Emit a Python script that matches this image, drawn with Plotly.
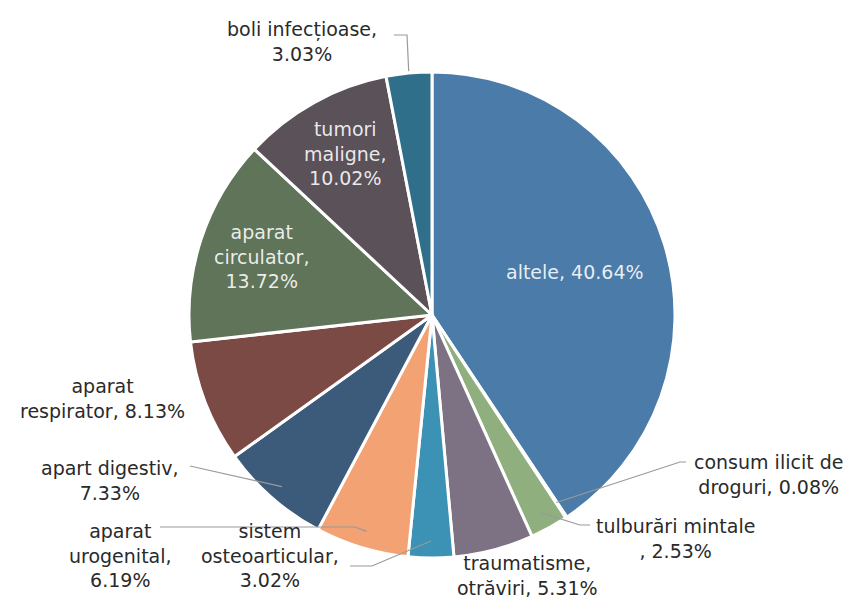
import plotly.graph_objects as go
import math

# ---- data ----
labels = ["altele", "consum ilicit de droguri", "tulburări mintale", "traumatisme, otrăviri",
          "sistem osteoarticular", "aparat urogenital", "apart digestiv", "aparat respirator",
          "aparat circulator", "tumori maligne", "boli infecțioase"]
values = [40.64, 0.08, 2.53, 5.31, 3.02, 6.19, 7.33, 8.13, 13.72, 10.02, 3.03]
# wrapped display names and separators between name and value
display = ["altele", "consum ilicit de<br>droguri", "tulburări mintale", "traumatisme,<br>otrăviri",
           "sistem<br>osteoarticular", "aparat<br>urogenital", "apart digestiv", "aparat<br>respirator",
           "aparat<br>circulator", "tumori<br>maligne", "boli infecțioase"]
seps = [", ", ", ", "<br>, ", ", ", ",<br>", ",<br>", ",<br>", ", ", ",<br>", ",<br>", ",<br>"]
colors = ["#4b7ba8", "#6a9a6a", "#8fb07e", "#7d7283", "#3b92b5", "#f2a273", "#3c5a7a",
          "#7b4a45", "#5f7459", "#5b5159", "#2f6f89"]

W, H = 855, 597
OFF = 8  # page body margin offset
CX, CY, R = 432 - OFF, 315 - OFF, 243

# label layout (target pixels in the picture): text centre, leader points, tip radius
layout_info = [
    dict(x=575, y=272, inside=True),
    dict(x=768, y=474, lead=[(686, 462), (680, 462)], r=225),
    dict(x=675, y=538, lead=[(590, 525), (580, 525)], r=226),
    dict(x=527, y=575),
    dict(x=270, y=555, lead=[(350, 566), (372, 566)], r=226),
    dict(x=120, y=555, lead=[(160, 527), (355, 527)], r=226),
    dict(x=110, y=480, lead=[(190, 466)], r=228),
    dict(x=102, y=398),
    dict(x=261, y=257, inside=True),
    dict(x=345, y=153, inside=True),
    dict(x=302, y=42, lead=[(394, 35), (407, 35)], r=245),
]

def px(x, y):
    # convert target picture pixels to paper coordinates
    return (x - OFF) / W, 1 - (y - OFF) / H

fig = go.Figure(go.Pie(
    labels=labels, values=values, sort=False, direction="clockwise", rotation=0,
    marker=dict(colors=colors, line=dict(color="white", width=3)),
    textinfo="none", hoverinfo="label+percent",
    domain=dict(x=[(CX - R) / W, (CX + R) / W], y=[(H - CY - R) / H, (H - CY + R) / H]),
    showlegend=False,
))

total = sum(values)
cum = 0
annotations = []
shapes = []
for i, v in enumerate(values):
    mid = (cum + v / 2) / total * 2 * math.pi
    cum += v
    info = layout_info[i]
    txt = f"{display[i]}{seps[i]}{v:.2f}%"
    inside = info.get("inside", False)
    ax, ay = px(info["x"], info["y"])
    annotations.append(dict(
        x=ax, y=ay, xref="paper", yref="paper", text=txt, showarrow=False,
        xanchor="center", yanchor="middle", align="center",
        font=dict(family="DejaVu Sans", size=19,
                  color="rgba(255,255,255,0.88)" if inside else "#2a2a2a"),
    ))
    if "lead" in info:
        r = info["r"]
        tx = CX + OFF + r * math.sin(mid)
        ty = CY + OFF - r * math.cos(mid)
        pts = info["lead"] + [(tx, ty)]
        path = ""
        for j, (qx, qy) in enumerate(pts):
            pxx, pyy = px(qx, qy)
            path += ("M" if j == 0 else " L") + f"{pxx:.5f},{pyy:.5f}"
        shapes.append(dict(type="path", path=path, xref="paper", yref="paper",
                           line=dict(color="#9a9a9a", width=1.2)))

fig.update_layout(
    width=W, height=H, margin=dict(l=0, r=0, t=0, b=0),
    paper_bgcolor="white", plot_bgcolor="white",
    annotations=annotations, shapes=shapes,
)
fig.write_html("out.html")
